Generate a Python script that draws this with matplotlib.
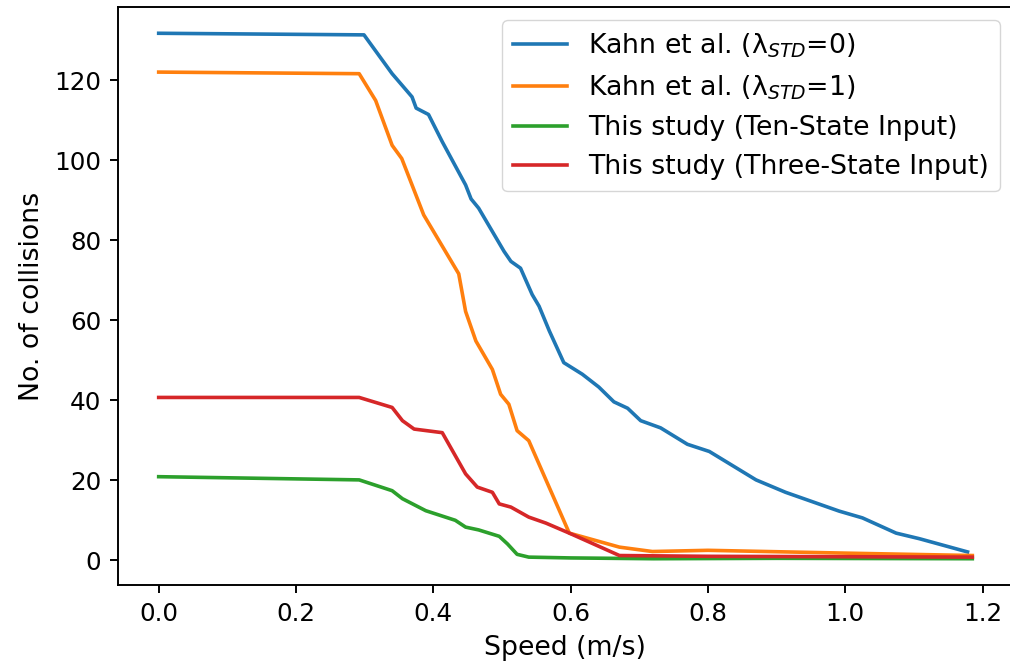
import numpy as np
import matplotlib
matplotlib.use('Agg')
import matplotlib.pyplot as plt

# scale everything like a default figure saved at ~173 dpi
s = 1.73
plt.rcParams['font.size'] = 19.3
plt.rcParams['xtick.labelsize'] = 17.7
plt.rcParams['ytick.labelsize'] = 17.7
plt.rcParams['axes.linewidth'] = 0.8 * s
plt.rcParams['axes.labelpad'] = 4.0 * s
plt.rcParams['xtick.major.size'] = 3.5 * s
plt.rcParams['ytick.major.size'] = 3.5 * s
plt.rcParams['xtick.major.width'] = 0.8 * s
plt.rcParams['ytick.major.width'] = 0.8 * s
plt.rcParams['xtick.major.pad'] = 3.5 * s
plt.rcParams['ytick.major.pad'] = 3.5 * s
plt.rcParams['lines.linewidth'] = 1.5 * s

# Kahn et al. (lambda_STD = 0)
kahn0_x = [0.0, 0.299, 0.340, 0.369, 0.375, 0.393, 0.413, 0.447, 0.455, 0.466, 0.503, 0.513, 0.527,
           0.544, 0.554, 0.569, 0.590, 0.617, 0.641, 0.663, 0.683, 0.702, 0.731, 0.770, 0.802, 0.870,
           0.913, 0.991, 1.025, 1.074, 1.108, 1.178]
kahn0_y = [131.7, 131.3, 121.6, 115.8, 113.0, 111.4, 104.6, 93.8, 90.3, 88.0, 77.2, 74.7, 73.0,
           66.4, 63.5, 57.3, 49.4, 46.5, 43.3, 39.6, 38.0, 34.9, 33.1, 29.0, 27.2, 20.1,
           17.0, 12.3, 10.6, 6.8, 5.4, 2.1]

# Kahn et al. (lambda_STD = 1)
kahn1_x = [0.0, 0.292, 0.316, 0.340, 0.354, 0.386, 0.437, 0.447, 0.462, 0.486, 0.498, 0.510, 0.522,
           0.539, 0.598, 0.671, 0.719, 0.800, 1.000, 1.185]
kahn1_y = [122.0, 121.6, 114.9, 103.7, 100.4, 86.3, 71.6, 62.2, 54.8, 47.7, 41.5, 39.0, 32.4,
           29.9, 6.8, 3.3, 2.2, 2.5, 1.8, 1.2]

# This study (Ten-State Input)
ten_x = [0.0, 0.292, 0.340, 0.355, 0.389, 0.432, 0.447, 0.466, 0.496, 0.508, 0.522, 0.539, 0.600,
         0.720, 0.900, 1.185]
ten_y = [20.9, 20.1, 17.4, 15.4, 12.4, 10.0, 8.3, 7.6, 6.0, 4.1, 1.5, 0.8, 0.6,
         0.4, 0.5, 0.4]

# This study (Three-State Input)
three_x = [0.0, 0.292, 0.340, 0.355, 0.372, 0.413, 0.447, 0.464, 0.486, 0.496, 0.513, 0.539, 0.564,
           0.598, 0.671, 0.800, 1.000, 1.185]
three_y = [40.7, 40.7, 38.2, 34.9, 32.8, 31.9, 21.6, 18.3, 17.0, 14.1, 13.3, 10.8, 9.3,
           6.8, 1.2, 1.0, 0.9, 0.8]

labels = ['Kahn et al. (λ$_{STD}$=0)', 'Kahn et al. (λ$_{STD}$=1)',
          'This study (Ten-State Input)', 'This study (Three-State Input)']

fig = plt.figure(figsize=(10.1, 6.7), dpi=100)
ax = fig.add_axes([118 / 1010, 85 / 670, (1013 - 118) / 1010, (585 - 7) / 670])

ax.plot(kahn0_x, kahn0_y, color='#1f77b4', label=labels[0])
ax.plot(kahn1_x, kahn1_y, color='#ff7f0e', label=labels[1])
ax.plot(ten_x, ten_y, color='#2ca02c', label=labels[2])
ax.plot(three_x, three_y, color='#d62728', label=labels[3])

# the original picture is cut off just before the right spine
ax.spines['right'].set_visible(False)

ax.set_xlabel('Speed (m/s)')
ax.set_ylabel('No. of collisions')
ax.legend(loc='upper right')

fig.savefig('out.png', dpi=100)
